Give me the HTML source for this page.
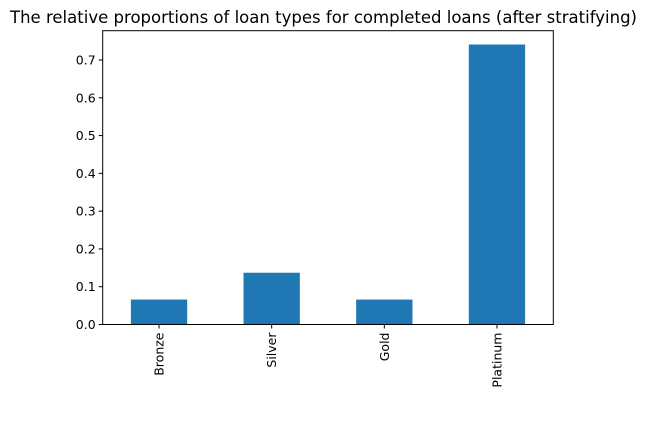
<!DOCTYPE html>
<html><head><meta charset="utf-8"><style>
body{margin:0;background:#fff;}
svg text{font-family:"DejaVu Sans","Liberation Sans",sans-serif;fill:#000;}
</style></head><body>
<svg width="647" height="417" viewBox="0 0 647 417">
<text x="323.5" y="23" text-anchor="middle" font-size="16.5" textLength="627" lengthAdjust="spacingAndGlyphs">The relative proportions of loan types for completed loans (after stratifying)</text>
<g id="bars"></g>
<g id="yaxis"></g>
<g id="xaxis"></g>
<rect x="102.7" y="30.7" width="450.6" height="293.8" fill="none" stroke="#000" stroke-width="1"/>
</svg>
<script>
const categories=["Bronze","Silver","Gold","Platinum"];
const values=[0.066,0.137,0.066,0.741];
const yTicks=[0,0.1,0.2,0.3,0.4,0.5,0.6,0.7];
const yTickLabels=["0.0","0.1","0.2","0.3","0.4","0.5","0.6","0.7"];
const L=102.7,R=553.3,T=30.7,B=324.5;
const yMax=0.7/((B-60)/(B-T));
function y(v){return B-(v/yMax)*(B-T);}
function x(i){return L+(i+0.5)*(R-L)/categories.length;}
const ns="http://www.w3.org/2000/svg";
function mk(t,a,p){const e=document.createElementNS(ns,t);for(const k in a)e.setAttribute(k,a[k]);p.appendChild(e);return e;}
const bw=(R-L)/categories.length*0.5;
const bg=document.getElementById('bars'),yg=document.getElementById('yaxis'),xg=document.getElementById('xaxis');
values.forEach((v,i)=>{
const r=mk('rect',{x:x(i)-bw/2,y:y(v),width:bw,height:B-y(v),fill:'#1f77b4'},bg);


});
yTicks.forEach((t,i)=>{
mk('line',{x1:L-4,x2:L,y1:y(t),y2:y(t),stroke:'#000'},yg);
const tx=mk('text',{x:L-7,y:y(t)+4.5,'text-anchor':'end','font-size':'12.5'},yg);
tx.textContent=yTickLabels[i];


});
categories.forEach((c,i)=>{
mk('line',{x1:x(i),x2:x(i),y1:B,y2:B+4,stroke:'#000'},xg);
const tx=mk('text',{transform:`translate(${x(i)+4.5},${B+8}) rotate(-90)`,'text-anchor':'end','font-size':'12.5'},xg);
tx.textContent=c;


});
</script>
</body></html>
